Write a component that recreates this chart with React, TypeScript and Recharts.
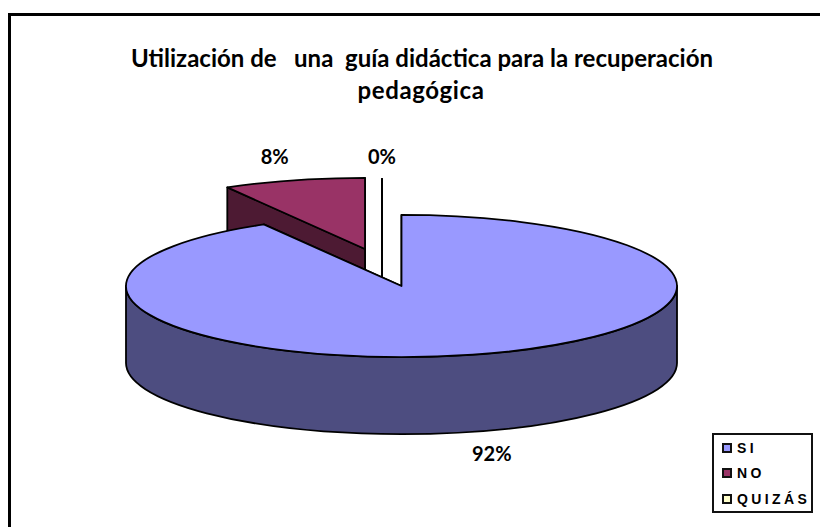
import { PieChart, Pie, Legend } from 'recharts';

const categories = ['SI', 'NO', 'QUIZÁS'];
const shares = [91.67, 8.33, 0];
const topColors = ['#9999FF', '#993366', '#FFFFCC'];
const sideColors = ['#4D4D80', '#4D1A33', '#80805F'];
const titleLines = ['Utilización de   una  guía didáctica para la recuperación', 'pedagógica'];

// slices are handed over back to front, so SI is painted last and covers the others
const pieData = categories
    .map((name, i) => ({ name, value: shares[i], top: topColors[i], side: sideColors[i] }))
    .reverse();

const WIDTH = 820;
const HEIGHT = 527;
const CX = 401.5;
const CY = 286;
const RX = 275.5;
const TILT = 0.258;
const DEPTH = 77;
const TITLE_FONT = 'Lato, "Open Sans", sans-serif';

const explode: Record<string, [number, number]> = {
    SI: [0, 0],
    NO: [-36.5, -37],
    QUIZÁS: [-19.5, -36],
};
const labelShift: Record<string, [number, number]> = {
    SI: [19, 29],
    NO: [-19, -16],
    QUIZÁS: [0, -15],
};

function Slice3D(props: any) {
    const { cx, cy, outerRadius: rx, startAngle, endAngle, payload, name } = props;
    const key = payload?.name ?? name;
    const [ox, oy] = explode[key];
    const ry = rx * TILT;
    const x0 = cx + ox;
    const y0 = cy + oy;
    const pt = (deg: number, drop = 0) => {
        const a = (deg * Math.PI) / 180;
        return [x0 + rx * Math.cos(a), y0 - ry * Math.sin(a) + drop];
    };
    const wall = (deg: number) => {
        const [x, y] = pt(deg);
        return `M${x0},${y0} L${x},${y} L${x},${y + DEPTH} L${x0},${y0 + DEPTH} Z`;
    };
    const [sx, sy] = pt(startAngle);
    const [ex, ey] = pt(endAngle);
    const large = endAngle - startAngle > 180 ? 1 : 0;
    const top = `M${x0},${y0} L${sx},${sy} A${rx},${ry} 0 ${large} 0 ${ex},${ey} Z`;

    // the rim only shows where the slice passes the front half of the ellipse
    let rim = null;
    const from = Math.max(startAngle, 180);
    const to = Math.min(endAngle, 360);
    if (to > from) {
        const [ax, ay] = pt(from);
        const [bx, by] = pt(to);
        rim = `M${ax},${ay} A${rx},${ry} 0 0 0 ${bx},${by} L${bx},${by + DEPTH} A${rx},${ry} 0 0 1 ${ax},${ay + DEPTH} Z`;
    }
    const line = { stroke: '#000', strokeWidth: 1.8, strokeLinejoin: 'round' as const };
    return (
        <g>
            <path d={wall(startAngle)} fill={payload.side} {...line} />
            <path d={wall(endAngle)} fill={payload.side} {...line} />
            {rim && <path d={rim} fill={payload.side} {...line} />}
            <path d={top} fill={payload.top} {...line} />
        </g>
    );
}

function SliceLabel(props: any) {
    const { cx, cy, outerRadius: rx, midAngle, percent, name, payload } = props;
    const key = payload?.name ?? name;
    const a = (midAngle * Math.PI) / 180;
    const sin = Math.sin(a);
    const x = cx + explode[key][0] + rx * Math.cos(a) + labelShift[key][0];
    const y = cy + explode[key][1] - rx * TILT * sin + (sin < 0 ? DEPTH : 0) + labelShift[key][1];
    return (
        <text x={x} y={y} textAnchor="middle" fontFamily={TITLE_FONT} fontWeight={700} fontSize={20} fill="#000">
            {`${Math.round(percent * 100)}%`}
        </text>
    );
}

function ChartKey() {
    return (
        <div
            style={{
                width: 97,
                height: 76,
                border: '2px solid #111',
                background: '#fff',
                boxSizing: 'content-box',
                fontFamily: '"Liberation Sans", Arial, sans-serif',
                fontWeight: 700,
                fontSize: 14,
                letterSpacing: 3.4,
                color: '#000',
            }}
        >
            {categories.map((name, i) => (
                <div key={name} style={{ display: 'flex', alignItems: 'center', height: 25.5, paddingLeft: 8 }}>
                    <span
                        style={{
                            width: 6,
                            height: 6,
                            border: '2px solid #111',
                            background: topColors[i],
                            marginRight: 5,
                            flex: 'none',
                        }}
                    />
                    {name}
                </div>
            ))}
        </div>
    );
}

export default function App() {
    return (
        <div style={{ position: 'absolute', left: 0, top: 0, width: WIDTH, height: HEIGHT, background: '#fff', overflow: 'hidden' }}>
            <div style={{ position: 'absolute', left: 8, top: 13, right: 0, height: 3, background: '#000' }} />
            <div style={{ position: 'absolute', left: 8, top: 13, bottom: 0, width: 3, background: '#000' }} />
            <PieChart width={WIDTH} height={HEIGHT} margin={{ top: 0, right: 0, bottom: 0, left: 0 }} style={{ position: 'absolute', left: 0, top: 0 }}>
                <text x={422} y={67} textAnchor="middle" fontFamily={TITLE_FONT} fontWeight={700} fontSize={24} fill="#000" style={{ whiteSpace: 'pre' }}>
                    {titleLines[0]}
                </text>
                <text x={421} y={99} textAnchor="middle" fontFamily={TITLE_FONT} fontWeight={700} fontSize={24} letterSpacing={0.6} fill="#000">
                    {titleLines[1]}
                </text>
                <Pie
                    data={pieData}
                    dataKey="value"
                    nameKey="name"
                    cx={CX}
                    cy={CY}
                    innerRadius={0}
                    outerRadius={RX}
                    startAngle={90}
                    endAngle={450}
                    isAnimationActive={false}
                    labelLine={false}
                    label={SliceLabel}
                    shape={Slice3D}
                />
                <Legend content={<ChartKey />} wrapperStyle={{ position: 'absolute', left: 712, top: 433, width: 101 }} />
            </PieChart>
        </div>
    );
}
